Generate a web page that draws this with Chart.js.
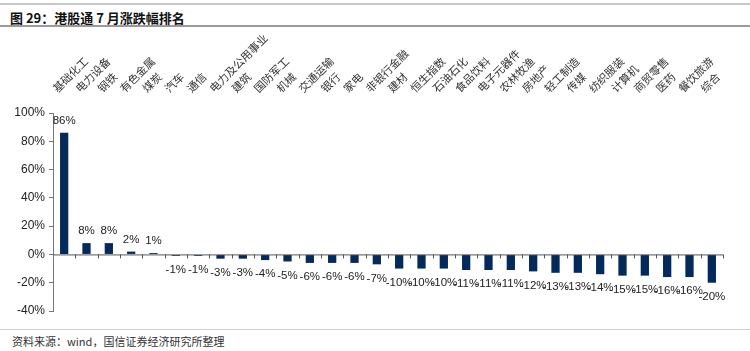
<!DOCTYPE html>
<html>
<head>
<meta charset="utf-8">
<script src="https://cdn.jsdelivr.net/npm/chart.js@4/dist/chart.umd.min.js"></script>
<style>
    body { margin: 0; width: 750px; height: 351px; background: #fff; position: relative; overflow: hidden; font-family: "Liberation Sans", Arial, "Noto Sans CJK SC", sans-serif; }
    #title { position: absolute; left: 0; top: 3px; width: 750px; height: 24px; border-top: 2px solid #c8c8c8; border-bottom: 2px solid #9a9a9a; box-sizing: border-box; }
    #title span { position: absolute; left: 10px; top: 3px; font: bold 13px "Noto Sans CJK SC", sans-serif; color: #111; }
    #box { position: absolute; left: 0; top: 30px; width: 750px; height: 298px; }
    #foot { position: absolute; left: 0; top: 329px; width: 750px; border-top: 1px solid #d0d0d0; }
    #foot span { position: absolute; left: 12px; top: 3px; font: 11px "Noto Sans CJK SC", sans-serif; color: #333; white-space: nowrap; }
</style>
</head>
<body>
<div id="title"><span>图 29：港股通 7 月涨跌幅排名</span></div>
<div id="box"><canvas id="barChart"></canvas></div>
<div id="foot"><span>资料来源：wind，国信证券经济研究所整理</span></div>
<script>
const categories = ['基础化工', '电力设备', '钢铁', '有色金属', '煤炭', '汽车', '通信', '电力及公用事业', '建筑', '国防军工',
    '机械', '交通运输', '银行', '家电', '非银行金融', '建材', '恒生指数', '石油石化', '食品饮料', '电子元器件',
    '农林牧渔', '房地产', '轻工制造', '传媒', '纺织服装', '计算机', '商贸零售', '医药', '餐饮旅游', '综合'];
const changes = [86, 8, 8, 2, 1, -1, -1, -3, -3, -4, -5, -6, -6, -6, -7, -10, -10, -10, -11, -11,
    -11, -12, -13, -13, -14, -15, -15, -16, -16, -20];
const yMin = -40;
const yMax = 100;
const yStep = 20;

// etiquettes de valeur au bout des barres
const valueLabels = {
    id: 'valueLabels',
    afterDatasetsDraw(chart) {
        const ctx = chart.ctx;
        const meta = chart.getDatasetMeta(0);
        ctx.save();
        ctx.font = '11.5px "Liberation Sans", Arial';
        ctx.fillStyle = '#222';
        ctx.textAlign = 'center';
        ctx.textBaseline = 'middle';
        meta.data.forEach((bar, i) => {
            const v = changes[i];
            const y = v >= 0 ? bar.y - 12 : bar.y + 14;
            ctx.fillText(Math.round(v) + '%', bar.x, y);
        });
        ctx.restore();
    }
};

// petits traits sous l'axe zéro entre les catégories
const zeroTicks = {
    id: 'zeroTicks',
    afterDatasetsDraw(chart) {
        const ctx = chart.ctx;
        const x = chart.scales.x;
        const y0 = chart.scales.y.getPixelForValue(0);
        const half = (x.getPixelForValue(1) - x.getPixelForValue(0)) / 2;
        ctx.save();
        ctx.strokeStyle = '#555';
        ctx.lineWidth = 1;
        ctx.beginPath();
        ctx.moveTo(chart.chartArea.left, y0 + 0.5);
        ctx.lineTo(chart.chartArea.right, y0 + 0.5);
        for (let i = 0; i < categories.length; i++) {
            const px = Math.round(x.getPixelForValue(i) + half) + 0.5;
            ctx.moveTo(px, y0);
            ctx.lineTo(px, y0 + 4);
        }
        ctx.stroke();
        ctx.restore();
    }
};

new Chart(document.getElementById('barChart'), {
    type: 'bar',
    data: {
        labels: categories,
        datasets: [{
            data: changes,
            backgroundColor: '#032a5a',
            barPercentage: 0.37,
            categoryPercentage: 1
        }]
    },
    options: {
        responsive: true,
        maintainAspectRatio: false,
        animation: false,
        layout: { padding: { left: 0, right: 27, top: 0, bottom: 17 } },
        plugins: { legend: { display: false }, tooltip: { enabled: false } },
        scales: {
            x: {
                position: 'top',
                grid: { display: false, drawTicks: false },
                border: { display: false },
                ticks: {
                    autoSkip: false,
                    minRotation: 45,
                    maxRotation: 45,
                    padding: 18,
                    color: '#333',
                    font: { family: '"Noto Sans CJK SC", sans-serif', size: 11 }
                },
                afterFit(scale) { scale.height = 83; }
            },
            y: {
                min: yMin,
                max: yMax,
                ticks: {
                    stepSize: yStep,
                    padding: 4,
                    color: '#222',
                    font: { family: '"Liberation Sans", Arial', size: 12 },
                    callback: v => v + '%'
                },
                grid: { drawOnChartArea: false, drawTicks: true, tickLength: 4, tickColor: '#777' },
                border: { display: true, color: '#777' },
                afterFit(scale) { scale.width = 53; }
            }
        }
    },
    plugins: [valueLabels, zeroTicks]
});
</script>
</body>
</html>
